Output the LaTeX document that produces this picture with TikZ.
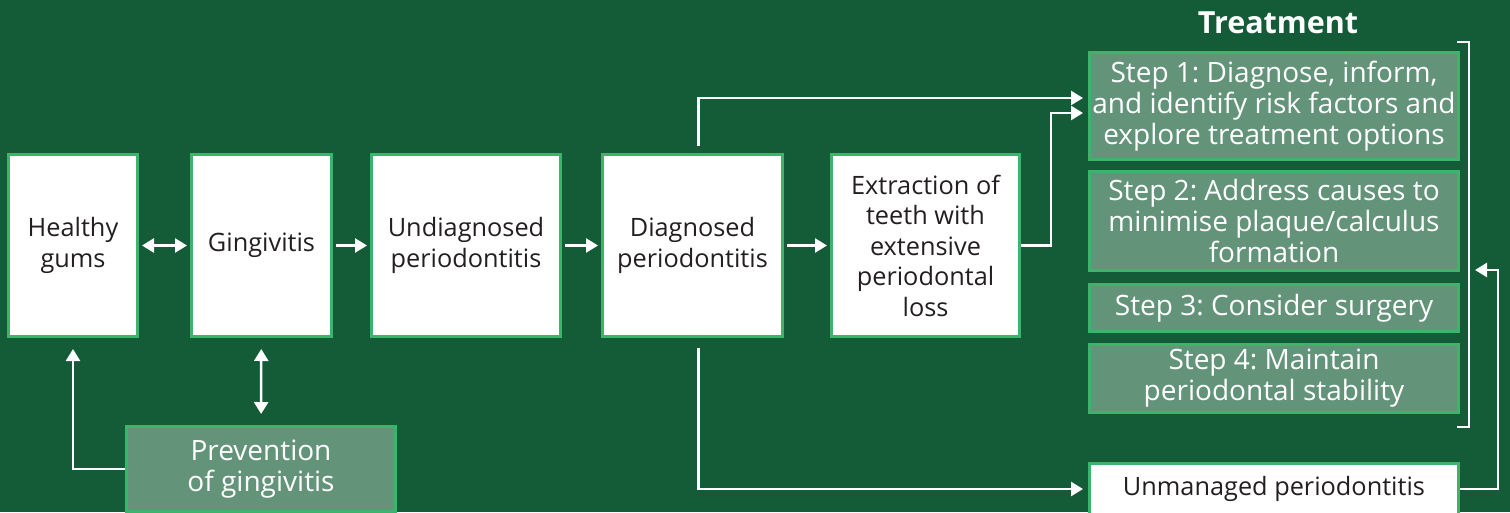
\documentclass[tikz,border=0pt]{standalone}
\usepackage{fontspec}
\setmainfont{Open Sans}
\frenchspacing
\usetikzlibrary{positioning,calc,arrows.meta}
\definecolor{bggreen}{HTML}{135C37}
\definecolor{edgegreen}{HTML}{3DB46B}
\definecolor{stepgreen}{HTML}{63947A}
\definecolor{textdark}{HTML}{231F20}
\tikzset{
    box/.style={draw=edgegreen, line width=3pt, fill=white, text=textdark, align=center, inner sep=0pt, font=\fontsize{25.3}{30.5}\selectfont},
    greenbox/.style={box, fill=stepgreen, text=white, font=\fontsize{28}{31}\selectfont},
    stepbox/.style={greenbox, minimum width=369pt},
    arr/.style={draw=white, line width=2.5pt, -{Triangle[length=12pt,width=14pt]}},
    dblarr/.style={arr, {Triangle[length=12pt,width=14pt]}-{Triangle[length=12pt,width=14pt]}}
}
\begin{document}
\begin{tikzpicture}[x=1pt,y=-1pt]
    \fill[bggreen] (0,0) rectangle (1510,512);
    \useasboundingbox (0,0) rectangle (1510,512);

    % Stages
    \node[box, minimum width=129pt, minimum height=182pt] (healthy) at (73,245.5) {Healthy\\gums};
    \node[box, minimum width=140pt, minimum height=182pt] (gingivitis) at (261.5,245.5) {Gingivitis};
    \node[box, minimum width=189pt, minimum height=182pt] (undiag) at (466,245.5) {Undiagnosed\\periodontitis};
    \node[box, minimum width=180pt, minimum height=182pt] (diag) at (692.5,245.5) {Diagnosed\\periodontitis};
    \node[box, minimum width=188pt, minimum height=182pt] (extract) at (925.5,245.5) {Extraction of\\teeth with\\extensive\\periodontal\\loss};
    \node[greenbox, minimum width=269pt, minimum height=85pt] (prevent) at (261,469) {Prevention\\of gingivitis};

    % Treatment
    \node[text=white, font=\bfseries\fontsize{30.5}{36}\selectfont] (treat) at (1278,23) {Treatment};
    \node[stepbox, minimum height=107pt] (step1) at (1274,106) {Step 1: Diagnose, inform,\\and identify risk factors and\\explore treatment options};
    \node[stepbox, minimum height=99pt] (step2) at (1274,221) {Step 2: Address causes to\\minimise plaque/calculus\\formation};
    \node[stepbox, minimum height=47pt] (step3) at (1274,308) {Step 3: Consider surgery};
    \node[stepbox, minimum height=68pt] (step4) at (1274,378.5) {Step 4: Maintain\\periodontal stability};
    \node[box, minimum width=369pt, minimum height=52pt] (unmanaged) at (1274,489) {Unmanaged periodontitis};

    % Bracket
    \coordinate (brtop) at (1457,42);
    \coordinate (brbot) at (1457,427);
    \coordinate (brmid) at (1469,270);
    \draw[white, line width=2.5pt] (brtop) -| (brmid) |- (brbot);

    % Connectors
    \draw[dblarr, shorten <=3pt, shorten >=3pt] (healthy) -- (gingivitis);
    \foreach \a/\b in {gingivitis/undiag, undiag/diag, diag/extract}
        \draw[arr, shorten <=3pt, shorten >=3pt] (\a) -- (\b);
    \draw[dblarr, shorten <=11pt, shorten >=11pt] (gingivitis) -- (prevent);
    \draw[arr, shorten >=11pt] (prevent.west) -| (healthy.south);
    \draw[arr, shorten >=5pt] (extract.east) -- ++(30,0) |- ($(step1.west)+(0,7)$);
    \draw[arr, shorten <=7pt, shorten >=5pt] ($(diag.north)+(6,0)$) |- ($(step1.west)+(0,-8)$);
    \draw[arr, shorten <=10pt, shorten >=5pt] ($(diag.south)+(6,0)$) |- (unmanaged.west);
    \draw[arr, shorten >=6pt] (unmanaged.east) -- ++(38,0) |- (brmid);
\end{tikzpicture}
\end{document}
